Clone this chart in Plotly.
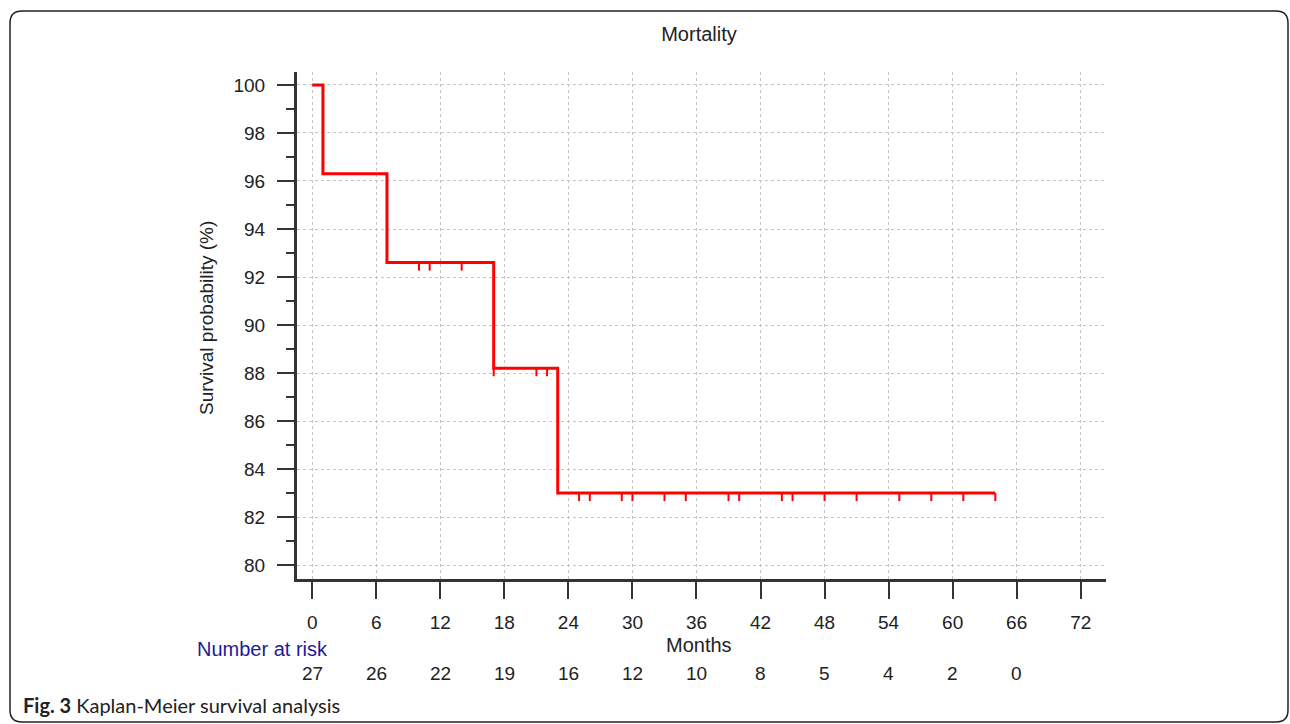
import plotly.graph_objects as go

# Kaplan-Meier step data
step_times = [0, 1, 7, 17, 23, 64]
step_surv = [100, 96.3, 92.6, 88.2, 83.0, 83.0]
censor_times = [10, 11, 14, 17, 21, 22, 25, 26, 29, 30, 33, 35, 39, 40, 44, 45,
                48, 51, 55, 58, 61, 64]
risk_times = [0, 6, 12, 18, 24, 30, 36, 42, 48, 54, 60, 66]
risk_counts = [27, 26, 22, 19, 16, 12, 10, 8, 5, 4, 2, 0]
x_ticks = list(range(0, 73, 6))
y_ticks = list(range(80, 101, 2))

RED = "#ff0000"
AX = "#333333"
TXT = "#222222"
FONT = "Arial, 'Liberation Sans', sans-serif"

# plot-area pixel geometry
L, R, T, B = 297, 1106, 72, 579
W, H = 1290, 724
pw, ph = R - L, B - T


def px(x):
    return (x - L) / pw


def py(y):
    return (B - y) / ph


def surv_at(t):
    s = step_surv[0]
    for tt, ss in zip(step_times, step_surv):
        if tt <= t:
            s = ss
    return s


fig = go.Figure()
fig.add_trace(go.Scatter(x=step_times, y=step_surv, mode="lines",
                         line=dict(color=RED, width=3, shape="hv"),
                         hoverinfo="skip", showlegend=False))

cx, cy = [], []
tick_drop = 8 / 24.0
for t in censor_times:
    s = surv_at(t)
    cx += [t, t, None]
    cy += [s, s - tick_drop, None]
fig.add_trace(go.Scatter(x=cx, y=cy, mode="lines",
                         line=dict(color=RED, width=2),
                         hoverinfo="skip", showlegend=False))

fig.update_layout(
    width=W, height=H,
    margin=dict(l=L, r=W - R, t=T, b=H - B),
    paper_bgcolor="white", plot_bgcolor="white",
    font=dict(family=FONT, size=19, color=TXT),
    title=dict(text="Mortality", x=px(699), xref="paper", xanchor="center",
               y=1 - 34 / H, yref="container", yanchor="middle",
               font=dict(family=FONT, size=20, color=TXT)),
    showlegend=False,
)

grid = dict(showgrid=True, gridcolor="#c4c4c4", griddash="dot", gridwidth=1)

fig.update_xaxes(
    range=[-1.43, 74.37], tickmode="array", tickvals=x_ticks,
    ticktext=[str(v) for v in x_ticks],
    showline=True, linewidth=3, linecolor=AX,
    ticks="outside", ticklen=17, tickwidth=2, tickcolor=AX,
    ticklabelstandoff=7,
    zeroline=False, tickfont=dict(family=FONT, size=19, color=TXT), **grid,
)
fig.update_yaxes(
    range=[79.42, 100.54], tickmode="array", tickvals=y_ticks,
    ticktext=[str(v) for v in y_ticks],
    showline=True, linewidth=3, linecolor=AX,
    ticks="outside", ticklen=17, tickwidth=2, tickcolor=AX,
    ticklabelstandoff=8,
    minor=dict(dtick=1, tick0=80, ticks="outside", ticklen=8, tickwidth=2,
               tickcolor=AX, showgrid=False),
    zeroline=False, tickfont=dict(family=FONT, size=19, color=TXT), **grid,
)

# axis titles
fig.add_annotation(text="Survival probability (%)", textangle=-90,
                   x=px(206), y=py(318), xref="paper", yref="paper",
                   showarrow=False, xanchor="center", yanchor="middle",
                   font=dict(family=FONT, size=19, color=TXT))
fig.add_annotation(text="Months", x=px(699), y=py(645), xref="paper", yref="paper",
                   showarrow=False, xanchor="center", yanchor="middle",
                   font=dict(family=FONT, size=20, color=TXT))

# number at risk
fig.add_annotation(text="Number at risk", x=px(262), y=py(649), xref="paper",
                   yref="paper", showarrow=False, xanchor="center",
                   yanchor="middle", font=dict(family=FONT, size=20, color="#1c1c96"))
for t, n in zip(risk_times, risk_counts):
    fig.add_annotation(text=str(n), x=t, y=py(673), xref="x", yref="paper",
                       showarrow=False, xanchor="center", yanchor="middle",
                       font=dict(family=FONT, size=19, color=TXT))

# caption
fig.add_annotation(text="<b>Fig. 3</b> Kaplan-Meier survival analysis",
                   x=px(21), y=py(705), xref="paper", yref="paper",
                   showarrow=False, xanchor="left", yanchor="middle",
                   font=dict(family="Lato, 'Noto Sans', sans-serif", size=20,
                             color=TXT))

# rounded border around the figure
x0, x1, y0, y1, r = 10, 1288, 11, 722, 12
path = (f"M {px(x0)},{py(y0 + r)} Q {px(x0)},{py(y0)} {px(x0 + r)},{py(y0)} "
        f"L {px(x1 - r)},{py(y0)} Q {px(x1)},{py(y0)} {px(x1)},{py(y0 + r)} "
        f"L {px(x1)},{py(y1 - r)} Q {px(x1)},{py(y1)} {px(x1 - r)},{py(y1)} "
        f"L {px(x0 + r)},{py(y1)} Q {px(x0)},{py(y1)} {px(x0)},{py(y1 - r)} Z")
fig.add_shape(type="path", path=path, xref="paper", yref="paper",
              line=dict(color=TXT, width=1.5), layer="above")

fig.write_html("out.html", config={"displayModeBar": False},
               post_script="document.body.style.margin='0';"
                           "document.body.style.padding='0';")
